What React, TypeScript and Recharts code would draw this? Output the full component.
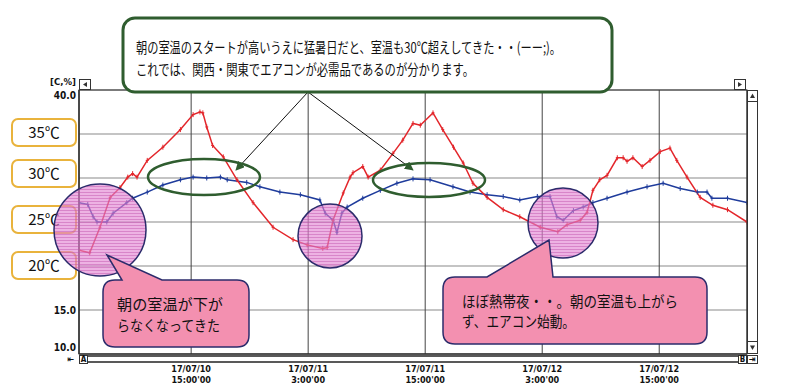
import React from 'react'
import { LineChart, Line, XAxis, YAxis, CartesianGrid } from 'recharts'

// hours since 17/07/10 0:00
const redHours = [3.5, 4.6, 5.65, 6.7, 7.7, 8.5, 9.0, 9.45, 10.5, 12.1, 13.9, 15.2, 15.9, 16.2, 16.6, 17.2, 18.3, 19.7, 21.35, 23.4, 25.45, 26.9, 28.5, 28.95, 29.55, 30.6, 31.3, 31.6, 32.6, 33.15, 34.4, 35.7, 36.7, 37.75, 38.5, 39.8, 40.8, 41.9, 42.9, 43.9, 45.35, 47.0, 48.7, 50.8, 52.6, 53.55, 54.9, 55.6, 56.2, 56.9, 57.65, 58.7, 59.3, 59.7, 60.3, 61.25, 62.05, 63.1, 64.1, 64.8, 65.85, 67.2, 68.5, 70.0, 72.0]
const redTemp = [21.8, 21.5, 24.4, 27.8, 28.9, 30.1, 30.5, 30.1, 32.0, 33.5, 35.5, 37.2, 37.5, 37.4, 35.8, 33.7, 32.4, 29.8, 27.2, 24.4, 23.0, 22.4, 22.0, 22.1, 25.2, 28.3, 30.1, 30.6, 31.3, 30.1, 30.9, 32.8, 34.3, 36.2, 36.0, 37.4, 35.5, 33.5, 31.7, 29.4, 27.8, 26.4, 25.6, 24.4, 23.9, 24.7, 25.2, 26.1, 28.6, 29.8, 30.3, 32.3, 32.3, 31.9, 32.3, 31.3, 32.0, 33.0, 33.4, 32.0, 30.1, 27.8, 26.9, 26.4, 25.0]

const blueHours = [3.5, 4.4, 4.95, 5.35, 6.35, 7.0, 8.4, 9.0, 10.5, 12.1, 13.9, 15.2, 16.6, 18.0, 18.7, 20.7, 22.05, 24.1, 26.2, 28.2, 28.75, 29.55, 29.95, 30.45, 31.0, 32.6, 34.4, 36.1, 37.75, 39.5, 41.85, 43.6, 45.35, 47.0, 48.7, 50.5, 51.8, 52.5, 53.15, 54.2, 55.2, 56.2, 57.65, 59.7, 61.75, 63.4, 65.15, 66.9, 67.9, 68.4, 70.0, 72.0]
const blueTemp = [27.2, 27.0, 25.6, 25.0, 25.0, 26.0, 27.2, 27.7, 28.4, 29.2, 29.8, 30.1, 30.0, 30.1, 29.8, 29.5, 29.0, 28.4, 28.1, 27.5, 26.0, 25.2, 23.8, 26.0, 26.7, 27.7, 28.6, 29.4, 29.9, 29.8, 29.0, 28.4, 28.1, 27.9, 27.5, 27.9, 27.9, 25.6, 25.2, 26.3, 26.7, 27.2, 27.7, 28.4, 29.0, 29.4, 28.8, 28.4, 28.4, 27.7, 27.7, 27.2]

const tickHours = [15, 27, 39, 51, 63]
const tickDates = ['17/07/10', '17/07/11', '17/07/11', '17/07/12', '17/07/12']
const tickTimes = ["15:00'00", "3:00'00", "15:00'00", "3:00'00", "15:00'00"]
const yTicks = [10, 15, 20, 25, 30, 35, 40]
const yLabelled = [10, 15, 40] // the rest sit under the ℃ boxes

const tempBoxes = ['35℃', '30℃', '25℃', '20℃']

const redData = redHours.map((h, i) => ({ h, v: redTemp[i] }))
const blueData = blueHours.map((h, i) => ({ h, v: blueTemp[i] }))

const NARROW = "'Liberation Sans Narrow','DejaVu Sans Condensed',sans-serif"
const JP = "'Noto Sans CJK JP',sans-serif"
const GREEN = '#2f5d2f'
const NAVY = '#2b2b6b'

const plusMark = (color: string) => (p: any) => (
  <path
    key={p.index}
    d={`M${p.cx},${p.cy - 2.5}V${p.cy + 2.5}M${p.cx - 1.5},${p.cy}H${p.cx + 1.5}`}
    stroke={color}
    strokeWidth={1}
    fill="none"
  />
)

function XTick({ x, payload }: any) {
  const i = tickHours.indexOf(payload.value)
  return (
    <g fontFamily={NARROW} fontWeight="bold" fontSize={9} fill="#111" textAnchor="middle">
      <text x={x} y={372}>{tickDates[i]}</text>
      <text x={x} y={383}>{tickTimes[i]}</text>
    </g>
  )
}

function YTick({ y, payload }: any) {
  if (!yLabelled.includes(payload.value)) return <g />
  const dy = payload.value === 40 ? 9 : payload.value === 10 ? -3 : 4
  return (
    <text x={76} y={y + dy} textAnchor="end" fontFamily={NARROW} fontWeight="bold" fontSize={10} fill="#111">
      {payload.value.toFixed(1)}
    </text>
  )
}

const calloutPath = (x: number, y: number, w: number, h: number, r: number, b1: number, b2: number, tx: number, ty: number) =>
  `M${x + r},${y} L${b1},${y} L${tx},${ty} L${b2},${y} L${x + w - r},${y} Q${x + w},${y} ${x + w},${y + r} ` +
  `L${x + w},${y + h - r} Q${x + w},${y + h} ${x + w - r},${y + h} L${x + r},${y + h} Q${x},${y + h} ${x},${y + h - r} ` +
  `L${x},${y + r} Q${x},${y} ${x + r},${y} Z`

function Overlay() {
  const boxY = [119, 160, 206, 252]
  return (
    <svg width={800} height={385} style={{ position: 'absolute', left: 0, top: 0, pointerEvents: 'none' }}>
      <defs>
        <pattern id="hatch" width={4} height={3} patternUnits="userSpaceOnUse">
          <rect width={4} height={3} fill="rgba(226,130,210,0.62)" />
          <line x1={0} y1={0.5} x2={4} y2={0.5} stroke="rgba(190,80,170,0.45)" strokeWidth={1} />
        </pattern>
        <marker id="arr" viewBox="0 0 10 10" refX={9} refY={5} markerWidth={9} markerHeight={9} orient="auto">
          <path d="M0,0 L10,5 L0,10 Z" fill={GREEN} />
        </marker>
      </defs>

      {/* chart chrome */}
      <rect x={79} y={90} width={668} height={264} fill="none" stroke="#333" strokeWidth={1} />
      <text x={50} y={85} fontFamily={NARROW} fontWeight="bold" fontSize={9.5} fill="#111">[C,%]</text>
      <rect x={79.5} y={79.5} width={11} height={10} fill="#fff" stroke="#333" />
      <path d="M83,84.5 L87,82 L87,87 Z" fill="#333" />
      <rect x={734.5} y={79.5} width={11} height={10} fill="#fff" stroke="#333" />
      <path d="M742,84.5 L738,82 L738,87 Z" fill="#333" />
      <rect x={747.5} y={90.5} width={10} height={263} fill="#fff" stroke="#333" />
      <rect x={747.5} y={90.5} width={10} height={11} fill="#fff" stroke="#333" />
      <path d="M752.5,93.5 L755,98 L750,98 Z" fill="#333" />
      <rect x={747.5} y={341.5} width={10} height={12} fill="#fff" stroke="#333" />
      <path d="M752.5,350 L755,345.5 L750,345.5 Z" fill="#333" />
      <line x1={79} y1={356} x2={740} y2={356} stroke="#222" strokeWidth={1.5} />
      <line x1={79} y1={362} x2={740} y2={362} stroke="#222" strokeWidth={1.5} />
      <rect x={79.5} y={355.5} width={8} height={8} fill="#fff" stroke="#333" />
      <text x={83.5} y={362} textAnchor="middle" fontFamily={NARROW} fontWeight="bold" fontSize={8} fill="#111">A</text>
      <text x={71} y={362} textAnchor="middle" fontFamily={NARROW} fontWeight="bold" fontSize={9} fill="#111">⇤</text>
      <rect x={738.5} y={355.5} width={8} height={8} fill="#fff" stroke="#333" />
      <text x={742.5} y={362} textAnchor="middle" fontFamily={NARROW} fontWeight="bold" fontSize={8} fill="#111">B</text>
      <rect x={747.5} y={355.5} width={10} height={8} fill="#fff" stroke="#333" />
      <text x={752.5} y={362} textAnchor="middle" fontFamily={NARROW} fontWeight="bold" fontSize={9} fill="#111">⇥</text>

      {/* temperature boxes */}
      {tempBoxes.map((t, i) => (
        <g key={t}>
          <rect x={12} y={boxY[i]} width={64} height={27} rx={6} fill="#fff" stroke="#e9b33c" strokeWidth={2} />
          <text x={44} y={boxY[i] + 19} textAnchor="middle" fontFamily={JP} fontSize={15} fill="#111">{t}</text>
        </g>
      ))}

      {/* top comment */}
      <line x1={308} y1={92} x2={236} y2={170} stroke="#111" strokeWidth={1} markerEnd="url(#arr)" />
      <line x1={308} y1={92} x2={413} y2={170} stroke="#111" strokeWidth={1} markerEnd="url(#arr)" />
      <rect x={123} y={18} width={489} height={74} rx={12} fill="#fff" stroke={GREEN} strokeWidth={3} />
      <text x={136} y={53} fontFamily={JP} fontSize={14.5} fill="#111" textLength={425} lengthAdjust="spacingAndGlyphs">
        朝の室温のスタートが高いうえに猛暑日だと、室温も30℃超えしてきた・・(ーー;)。
      </text>
      <text x={136} y={75} fontFamily={JP} fontSize={14.5} fill="#111" textLength={338} lengthAdjust="spacingAndGlyphs">
        これでは、関西・関東でエアコンが必需品であるのが分かります。
      </text>

      <ellipse cx={204} cy={177} rx={56} ry={18} fill="none" stroke={GREEN} strokeWidth={2.5} />
      <ellipse cx={429} cy={180} rx={56} ry={17} fill="none" stroke={GREEN} strokeWidth={2.5} />

      <circle cx={100} cy={230} r={46} fill="url(#hatch)" stroke={NAVY} strokeWidth={1.5} />
      <circle cx={330} cy={236} r={32} fill="url(#hatch)" stroke={NAVY} strokeWidth={1.5} />
      <circle cx={563} cy={223} r={35} fill="url(#hatch)" stroke={NAVY} strokeWidth={1.5} />

      {/* bottom comments */}
      <path d={calloutPath(103, 280, 146, 67, 12, 122, 162, 107, 255)} fill="#f390b0" stroke={NAVY} strokeWidth={1.5} />
      <text x={117} y={310} fontFamily={JP} fontSize={15} fill="#111" textLength={106} lengthAdjust="spacingAndGlyphs">朝の室温が下が</text>
      <text x={117} y={331} fontFamily={JP} fontSize={15} fill="#111" textLength={103} lengthAdjust="spacingAndGlyphs">らなくなってきた</text>

      <path d={calloutPath(443, 277, 264, 67, 12, 487, 553, 549, 240)} fill="#f390b0" stroke={NAVY} strokeWidth={1.5} />
      <text x={462} y={307} fontFamily={JP} fontSize={15} fill="#111" textLength={216} lengthAdjust="spacingAndGlyphs">ほぼ熱帯夜・・。朝の室温も上がら</text>
      <text x={462} y={327} fontFamily={JP} fontSize={15} fill="#111" textLength={113} lengthAdjust="spacingAndGlyphs">ず、エアコン始動。</text>
    </svg>
  )
}

export default function App() {
  return (
    <div style={{ position: 'absolute', left: 0, top: 0, width: 800, height: 385, background: '#fff' }}>
      <LineChart width={800} height={385} margin={{ top: 90, right: 53, bottom: 0, left: 0 }}>
        <CartesianGrid vertical={false} stroke="#8a8a8a" strokeWidth={1.2} />
        <CartesianGrid horizontal={false} stroke="#444" strokeWidth={1} />
        <XAxis
          type="number"
          dataKey="h"
          domain={[3.5, 72]}
          ticks={tickHours}
          allowDataOverflow
          height={31}
          tick={<XTick />}
          tickLine={false}
          axisLine={{ stroke: '#222' }}
        />
        <YAxis
          type="number"
          domain={[10, 40]}
          ticks={yTicks}
          width={79}
          tick={<YTick />}
          tickLine={false}
          axisLine={{ stroke: '#222' }}
        />
        <Line
          data={blueData}
          dataKey="v"
          type="linear"
          stroke="#1f3c9c"
          strokeWidth={1.5}
          dot={plusMark('#1f3c9c')}
          isAnimationActive={false}
        />
        <Line
          data={redData}
          dataKey="v"
          type="linear"
          stroke="#e3262b"
          strokeWidth={1.5}
          dot={plusMark('#e3262b')}
          isAnimationActive={false}
        />
      </LineChart>
      <Overlay />
    </div>
  )
}
